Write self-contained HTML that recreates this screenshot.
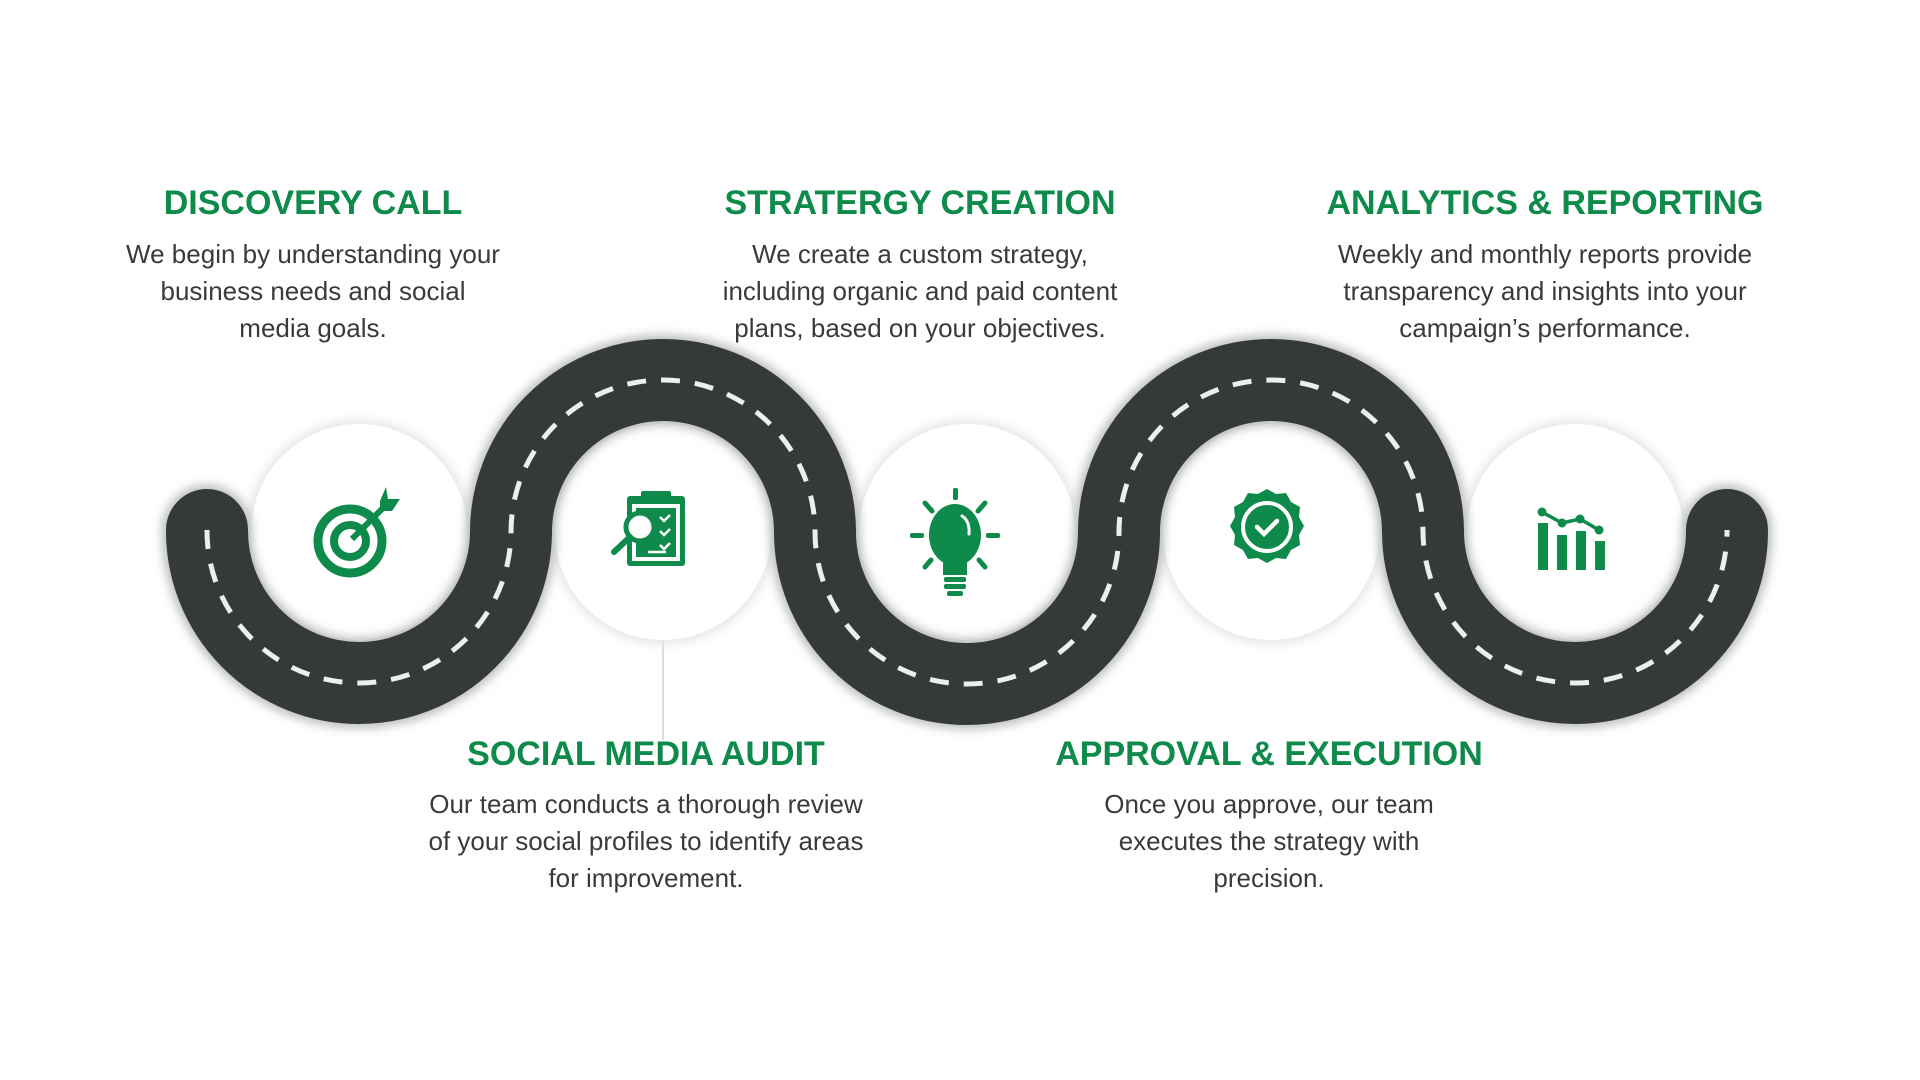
<!DOCTYPE html>
<html><head><meta charset="utf-8"><style>
html,body{margin:0;padding:0;background:#fff;}
body{width:1920px;height:1080px;position:relative;overflow:hidden;font-family:"Liberation Sans",sans-serif;}
.t{position:absolute;text-align:center;color:#0e8a4a;font-weight:bold;font-size:34px;line-height:40px;white-space:nowrap;transform:translateX(-50%);}
.b{position:absolute;text-align:center;color:#3a3a3a;font-size:26px;line-height:37px;white-space:nowrap;transform:translateX(-50%);}
svg{position:absolute;left:0;top:0;}
</style></head><body>
<svg width="1920" height="1080" viewBox="0 0 1920 1080">
<defs>
<filter id="sh" x="-30%" y="-30%" width="160%" height="160%"><feGaussianBlur stdDeviation="5"/></filter>
</defs>
<line x1="663" y1="640" x2="663" y2="740" stroke="#ddd" stroke-width="2"/>
<g fill="#fff">
<circle cx="359" cy="532" r="112" fill="#e6e6e6" filter="url(#sh)"/>
<circle cx="663" cy="532" r="112" fill="#e6e6e6" filter="url(#sh)"/>
<circle cx="967" cy="532" r="112" fill="#e6e6e6" filter="url(#sh)"/>
<circle cx="1271" cy="532" r="112" fill="#e6e6e6" filter="url(#sh)"/>
<circle cx="1575" cy="532" r="112" fill="#e6e6e6" filter="url(#sh)"/>
<circle cx="359" cy="532" r="108"/><circle cx="663" cy="532" r="108"/><circle cx="967" cy="532" r="108"/><circle cx="1271" cy="532" r="108"/><circle cx="1575" cy="532" r="108"/>
</g>
<path d="M207,530 A152 152 0 0 0 511,532 A152 152 0 0 1 815,532 A152 152 0 0 0 1119,532 A152 152 0 0 1 1423,532 A152 152 0 0 0 1727,530" fill="none" stroke="#bbb" stroke-width="90" stroke-linecap="round" filter="url(#sh)"/>
<path d="M207,530 A152 152 0 0 0 511,532 A152 152 0 0 1 815,532 A152 152 0 0 0 1119,532 A152 152 0 0 1 1423,532 A152 152 0 0 0 1727,530" fill="none" stroke="#343a38" stroke-width="82" stroke-linecap="round"/>
<path d="M207,530 A152 152 0 0 0 511,532 A152 152 0 0 1 815,532 A152 152 0 0 0 1119,532 A152 152 0 0 1 1423,532 A152 152 0 0 0 1727,530" fill="none" stroke="#eee" stroke-width="5" stroke-dasharray="19 15"/>
<g fill="none" stroke="#0e8a4a">
<circle cx="350" cy="541" r="32" stroke-width="9"/>
<circle cx="350" cy="541" r="16" stroke-width="8"/>
</g>
<line x1="352" y1="539" x2="388" y2="503" stroke="#0e8a4a" stroke-width="6"/>
<polygon points="380,501 386,487 388,499 400,499 392,511 380,511" fill="#0e8a4a"/>
<rect x="627" y="496" width="58" height="70" rx="3" fill="#0e8a4a"/>
<rect x="632" y="504" width="48" height="57" fill="#fff"/>
<rect x="636" y="508" width="40" height="49" fill="#0e8a4a"/>
<rect x="641" y="491" width="30" height="9" rx="2" fill="#0e8a4a"/>
<circle cx="640" cy="527" r="14" fill="#fff" stroke="#0e8a4a" stroke-width="5"/>
<line x1="630" y1="537" x2="614" y2="552" stroke="#0e8a4a" stroke-width="6" stroke-linecap="round"/>
<g stroke="#fff" stroke-width="2.5" fill="none"><path d="M660,517 l4,4 l6,-6 M660,531 l4,4 l6,-6 M660,545 l4,4 l6,-6 M648,552 h18"/></g>
<g fill="#0e8a4a">
<ellipse cx="955" cy="535" rx="26" ry="31"/>
<rect x="943" y="555" width="24" height="20"/>
<rect x="944" y="577" width="22" height="5" rx="2"/>
<rect x="944" y="584" width="22" height="5" rx="2"/>
<rect x="947" y="591" width="16" height="5" rx="2"/>
<rect x="953" y="488" width="5" height="12" rx="2"/>
<rect x="910" y="533" width="14" height="5" rx="2"/>
<rect x="986" y="533" width="14" height="5" rx="2"/>
</g>
<g stroke="#0e8a4a" stroke-width="5" stroke-linecap="round"><path d="M925,503 l7,8 M985,503 l-7,8 M925,567 l6,-7 M985,567 l-6,-7"/></g>
<path d="M962,516 q8,5 7,18" stroke="#fff" stroke-width="3" fill="none" stroke-linecap="round"/>
<path d="M1267,489 l9,5 10,-1 5,9 9,5 -1,10 5,9 -5,9 1,10 -9,5 -5,9 -10,-1 -9,5 -9,-5 -10,1 -5,-9 -9,-5 1,-10 -5,-9 5,-9 -1,-10 9,-5 5,-9 10,1z" fill="#0e8a4a"/>
<circle cx="1267" cy="527" r="24" fill="none" stroke="#fff" stroke-width="4"/>
<path d="M1257,527 l7,7 l13,-13" stroke="#fff" stroke-width="4.5" fill="none" stroke-linecap="round"/>
<g fill="#0e8a4a">
<rect x="1538" y="523" width="10" height="47"/>
<rect x="1557" y="535" width="10" height="35"/>
<rect x="1576" y="531" width="10" height="39"/>
<rect x="1595" y="541" width="10" height="29"/>
<circle cx="1542" cy="512" r="4.5"/><circle cx="1562" cy="523" r="4.5"/><circle cx="1580" cy="519" r="4.5"/><circle cx="1599" cy="530" r="4.5"/>
</g>
<path d="M1542,512 L1562,523 L1580,519 L1599,530" stroke="#0e8a4a" stroke-width="3.5" fill="none"/>
</svg>

<div class="t" style="left:313px;top:183px;">DISCOVERY CALL</div>
<div class="b" style="left:313px;top:236px;">We begin by understanding your<br>business needs and social<br>media goals.</div>

<div class="t" style="left:920px;top:183px;">STRATERGY CREATION</div>
<div class="b" style="left:920px;top:236px;">We create a custom strategy,<br>including organic and paid content<br>plans, based on your objectives.</div>

<div class="t" style="left:1545px;top:183px;">ANALYTICS &amp; REPORTING</div>
<div class="b" style="left:1545px;top:236px;">Weekly and monthly reports provide<br>transparency and insights into your<br>campaign’s performance.</div>

<div class="t" style="left:646px;top:734px;">SOCIAL MEDIA AUDIT</div>
<div class="b" style="left:646px;top:786px;">Our team conducts a thorough review<br>of your social profiles to identify areas<br>for improvement.</div>

<div class="t" style="left:1269px;top:734px;">APPROVAL &amp; EXECUTION</div>
<div class="b" style="left:1269px;top:786px;">Once you approve, our team<br>executes the strategy with<br>precision.</div>
</body></html>
